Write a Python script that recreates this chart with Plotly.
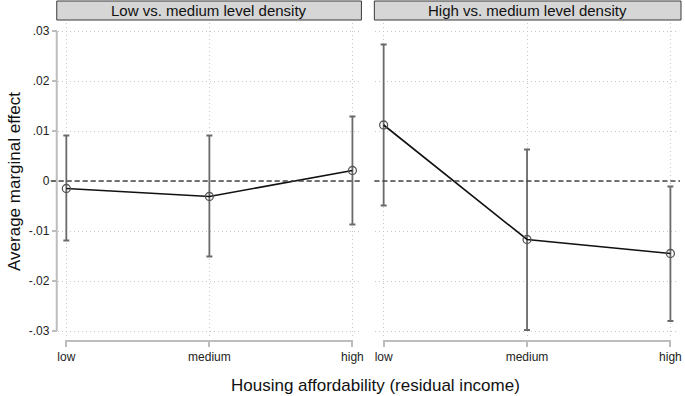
import plotly.graph_objects as go

# ---- data ----
categories = ["low", "medium", "high"]
panel_titles = ["Low vs. medium level density", "High vs. medium level density"]

low_est = [-0.0015, -0.0031, 0.0021]
low_lo = [-0.0119, -0.0151, -0.0087]
low_hi = [0.0091, 0.0091, 0.0129]

high_est = [0.0112, -0.0117, -0.0145]
high_lo = [-0.0049, -0.0298, -0.0280]
high_hi = [0.0273, 0.0063, -0.0011]

ytick_vals = [0.03, 0.02, 0.01, 0.0, -0.01, -0.02, -0.03]
ytick_text = [".03", ".02", ".01", "0", "-.01", "-.02", "-.03"]

x_title = "Housing affordability (residual income)"
y_title = "Average marginal effect"

# ---- geometry helpers ----
W, H = 685, 396
def px(x):
    return x / W
def py(y):
    return 1 - y / H

FONT = "Liberation Sans, Arial, Helvetica, sans-serif"
xs = list(range(len(categories)))

fig = go.Figure()

panels = [(low_est, low_lo, low_hi, "x", "y"), (high_est, high_lo, high_hi, "x2", "y2")]
for est, lo, hi, xa, ya in panels:
    fig.add_trace(go.Scatter(
        x=xs, y=est, xaxis=xa, yaxis=ya, mode="lines+markers",
        line=dict(color="#111111", width=1.6),
        marker=dict(symbol="circle-open", size=8, color="#555555", line=dict(width=1.3, color="#555555")),
        error_y=dict(type="data", symmetric=False,
                     array=[h - e for h, e in zip(hi, est)],
                     arrayminus=[e - l for e, l in zip(est, lo)],
                     color="#6a6a6a", thickness=1.8, width=3),
        showlegend=False, hoverinfo="skip",
    ))

yrange = [-0.0316, 0.0316]
xrange_ = [-0.06, 2.06]
ydom = [py(339), py(23)]

common_x = dict(range=xrange_, tickvals=xs, ticktext=categories, showgrid=True,
                gridcolor="#c8c8c8", griddash="1px,3px", gridwidth=1, zeroline=False,
                showline=False, ticks="outside", ticklen=7, tickcolor="#bdbdbd", tickwidth=1.5,
                tickfont=dict(size=12, color="#222222", family=FONT), fixedrange=True)
common_y = dict(range=yrange, tickvals=ytick_vals, showgrid=True, gridcolor="#c8c8c8",
                griddash="1px,3px", gridwidth=1, zeroline=False, showline=False, domain=ydom,
                fixedrange=True)

fig.update_layout(
    width=W, height=H, margin=dict(l=0, r=0, t=0, b=0),
    paper_bgcolor="white", plot_bgcolor="white",
    font=dict(family=FONT, color="#222222"),
    xaxis=dict(domain=[px(58), px(362.6)], anchor="y", **common_x),
    xaxis2=dict(domain=[px(376.7), px(682)], anchor="y2", **common_x),
    yaxis=dict(anchor="x", ticktext=ytick_text, ticks="outside", ticklen=5,
               tickcolor="#bdbdbd", tickwidth=1.5,
               tickfont=dict(size=12, color="#222222", family=FONT), **common_y),
    yaxis2=dict(anchor="x2", showticklabels=False, ticks="", **common_y),
)

shapes = []
# y axis line (left panel), spanning .03 to -.03
shapes.append(dict(type="line", xref="paper", yref="y", x0=px(57), x1=px(57),
                   y0=ytick_vals[-1], y1=ytick_vals[0], line=dict(color="#bdbdbd", width=2)))
# x axis lines spanning low..high
for xa in ["x", "x2"]:
    shapes.append(dict(type="line", xref=xa, yref="paper", x0=xs[0], x1=xs[-1],
                       y0=py(341), y1=py(341), line=dict(color="#bdbdbd", width=2)))
# zero reference lines
shapes.append(dict(type="line", xref="paper", yref="y", x0=px(51), x1=px(363),
                   y0=0, y1=0, line=dict(color="#444444", width=1.5, dash="5px,3px")))
shapes.append(dict(type="line", xref="paper", yref="y2", x0=px(376), x1=px(683),
                   y0=0, y1=0, line=dict(color="#444444", width=1.5, dash="5px,3px")))
# strip headers
strips = [(57, 363), (376, 684)]
for (a, b) in strips:
    shapes.append(dict(type="rect", xref="paper", yref="paper", x0=px(a), x1=px(b),
                       y0=py(20), y1=py(1), fillcolor="#d6d6d6",
                       line=dict(color="#3a3a3a", width=1), layer="below"))
fig.update_layout(shapes=shapes)

annotations = []
for (a, b), t in zip(strips, panel_titles):
    annotations.append(dict(x=px((a + b) / 2), y=py(10.5), xref="paper", yref="paper",
                            text=t, showarrow=False, xanchor="center", yanchor="middle",
                            font=dict(size=15, color="#111111", family=FONT)))
annotations.append(dict(x=px(377), y=py(385), xref="paper", yref="paper", text=x_title,
                        showarrow=False, xanchor="center", yanchor="middle",
                        font=dict(size=17, color="#111111", family=FONT)))
annotations.append(dict(x=px(14), y=py(181), xref="paper", yref="paper", text=y_title,
                        showarrow=False, xanchor="center", yanchor="middle", textangle=-90,
                        font=dict(size=17, color="#111111", family=FONT)))
fig.update_layout(annotations=annotations)

fig.write_html("out.html", config={"displayModeBar": False},
               post_script="document.body.style.margin='0';document.body.style.overflow='hidden';")
